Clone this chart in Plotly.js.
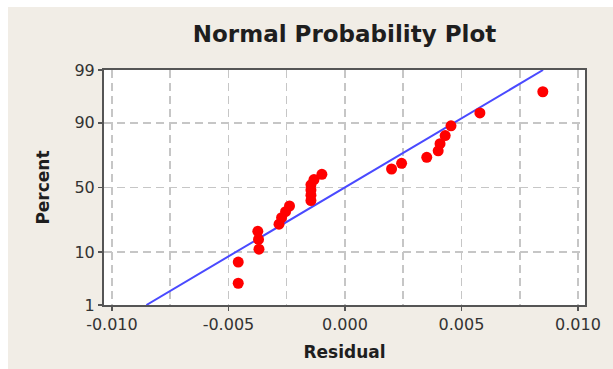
<!DOCTYPE html>
<html>
<head>
<meta charset="utf-8">
<script src="https://cdn.plot.ly/plotly-3.0.1.min.js"></script>
<style>
  html, body { margin: 0; padding: 0; background: #ffffff; width: 613px; height: 369px; overflow: hidden; }
  #chart { position: absolute; left: 8px; top: 7px; width: 605px; height: 362px; }
</style>
</head>
<body>
<div id="chart"></div>
<script>
// Residuals (x) and their plotted percent (y)
const residuals = [-0.00458, -0.00458, -0.00369, -0.00371, -0.00374,
                   -0.00283, -0.00272, -0.00255, -0.00238,
                   -0.00146, -0.00146, -0.00146, -0.00146, -0.00133, -0.00099,
                   0.00200, 0.00243, 0.00351, 0.00400, 0.00408, 0.00430, 0.00455,
                   0.00579, 0.00849];
const percents  = [2.9, 7.0, 11.1, 15.2, 19.3,
                   23.4, 27.5, 31.6, 35.7,
                   39.8, 43.9, 48.0, 52.1, 56.2, 60.3,
                   64.3, 68.4, 72.5, 76.6, 80.7, 84.8, 88.9,
                   93.0, 97.1];
// Fitted line end points (residual at 1% and 99%)
const lineResidual = [-0.00852, 0.00850];
const linePercent  = [1, 99];
// Axis ticks
const xTicks = [-0.010, -0.005, 0.000, 0.005, 0.010];
const xTickLabels = ["-0.010", "-0.005", "0.000", "0.005", "0.010"];
const yTicks = [1, 10, 50, 90, 99];
const yTickLabels = ["1", "10", "50", "90", "99"];

// inverse standard normal CDF (probability axis transform)
function normInv(p) {
  const a = [-3.969683028665376e+01, 2.209460984245205e+02, -2.759285104469687e+02, 1.383577518672690e+02, -3.066479806614716e+01, 2.506628277459239e+00];
  const b = [-5.447609879822406e+01, 1.615858368580409e+02, -1.556989798598866e+02, 6.680131188771972e+01, -1.328068155288572e+01];
  const c = [-7.784894002430293e-03, -3.223964580411365e-01, -2.400758277161838e+00, -2.549732539343734e+00, 4.374664141464968e+00, 2.938163982698783e+00];
  const d = [7.784695709041462e-03, 3.224671290700398e-01, 2.445134137142996e+00, 3.754408661907416e+00];
  const pl = 0.02425, ph = 1 - pl;
  let q, r;
  if (p < pl) {
    q = Math.sqrt(-2 * Math.log(p));
    return (((((c[0]*q+c[1])*q+c[2])*q+c[3])*q+c[4])*q+c[5]) / ((((d[0]*q+d[1])*q+d[2])*q+d[3])*q+1);
  } else if (p <= ph) {
    q = p - 0.5; r = q*q;
    return (((((a[0]*r+a[1])*r+a[2])*r+a[3])*r+a[4])*r+a[5])*q / (((((b[0]*r+b[1])*r+b[2])*r+b[3])*r+b[4])*r+1);
  } else {
    q = Math.sqrt(-2 * Math.log(1 - p));
    return -(((((c[0]*q+c[1])*q+c[2])*q+c[3])*q+c[4])*q+c[5]) / ((((d[0]*q+d[1])*q+d[2])*q+d[3])*q+1);
  }
}
const z = v => normInv(v / 100);

const traces = [
  {
    x: lineResidual, y: linePercent.map(z), mode: 'lines', type: 'scatter',
    line: { color: '#4a4aff', width: 2 }, hoverinfo: 'skip', cliponaxis: true
  },
  {
    x: residuals, y: percents.map(z), mode: 'markers', type: 'scatter',
    marker: { color: '#ff0000', size: 11, line: { width: 0 } }
  }
];

const gridColor = '#c6c6c6';
const layout = {
  width: 605, height: 362,
  paper_bgcolor: '#f1ede6', plot_bgcolor: '#ffffff',
  margin: { l: 96, r: 28, t: 63, b: 64 },
  showlegend: false,
  font: { family: 'DejaVu Sans, sans-serif', color: '#2e2e2e' },
  title: {
    text: '<b>Normal Probability Plot</b>',
    font: { size: 23, color: '#1e1e1e', family: 'DejaVu Sans, sans-serif' },
    x: 0.5, xref: 'paper', xanchor: 'center',
    y: 1 - 27 / 362, yref: 'container', yanchor: 'middle'
  },
  xaxis: {
    range: [-0.01034, 0.0103],
    tickvals: xTicks, ticktext: xTickLabels,
    tickfont: { size: 16, color: '#333333' },
    ticks: 'outside', ticklen: 4, tickcolor: '#555555', tickwidth: 1.5,
    showline: true, mirror: true, linecolor: '#555555', linewidth: 2,
    showgrid: true, gridcolor: gridColor, griddash: '8px,5px', gridwidth: 1.5,
    minor: { dtick: 0.0025, tick0: 0, showgrid: true, gridcolor: gridColor, griddash: '8px,5px', gridwidth: 1.5 },
    zeroline: false,
    title: { text: '<b>Residual</b>', font: { size: 17, color: '#1e1e1e' }, standoff: 13 }
  },
  yaxis: {
    range: [z(1), z(99)],
    tickvals: yTicks.map(z), ticktext: yTickLabels,
    tickfont: { size: 16, color: '#333333' },
    ticks: 'outside', ticklen: 4, tickcolor: '#555555', tickwidth: 1.5,
    showline: true, mirror: true, linecolor: '#555555', linewidth: 2,
    showgrid: true, gridcolor: gridColor, griddash: '8px,5px', gridwidth: 1.5,
    zeroline: false,
    title: { text: '<b>Percent</b>', font: { size: 17, color: '#1e1e1e' }, standoff: 20 }
  }
};

Plotly.newPlot('chart', traces, layout, { staticPlot: true, displayModeBar: false });
</script>
</body>
</html>
